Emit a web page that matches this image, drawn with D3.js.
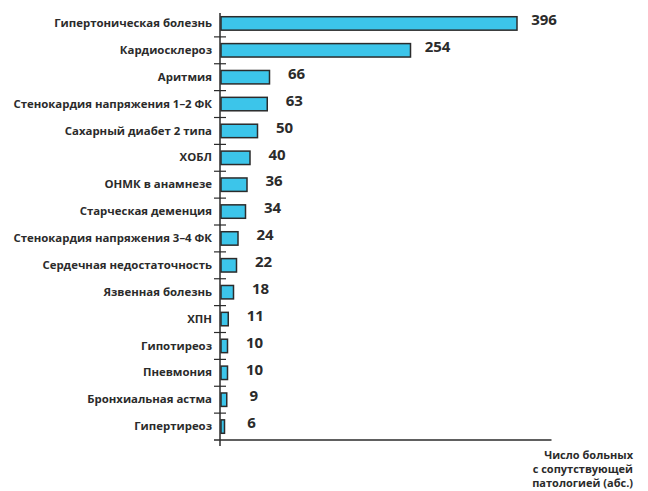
<!DOCTYPE html>
<html lang="ru">
<head>
<meta charset="utf-8">
<script src="https://cdn.jsdelivr.net/npm/d3@7"></script>
<style>
  html, body { margin: 0; padding: 0; background: #fff; }
  svg { display: block; font-family: "Open Sans", "Noto Sans", sans-serif; }
</style>
</head>
<body>
<svg id="chart" width="648" height="491"></svg>
<script>
// Сопутствующая патология: число больных (абс.)
const categories = [
  "Гипертоническая болезнь",
  "Кардиосклероз",
  "Аритмия",
  "Стенокардия напряжения 1–2 ФК",
  "Сахарный диабет 2 типа",
  "ХОБЛ",
  "ОНМК в анамнезе",
  "Старческая деменция",
  "Стенокардия напряжения 3–4 ФК",
  "Сердечная недостаточность",
  "Язвенная болезнь",
  "ХПН",
  "Гипотиреоз",
  "Пневмония",
  "Бронхиальная астма",
  "Гипертиреоз"
];
const patients = [396, 254, 66, 63, 50, 40, 36, 34, 24, 22, 18, 11, 10, 10, 9, 6];
const axisTitle = ["Число больных", "с сопутствующей", "патологией (абс.)"];

const ink = "#2b2b2b";
const barFill = "#3cc5ea";

const svg = d3.select("#chart");

const x = d3.scaleLinear().domain([0, 442]).range([220, 551.5]);
const y = d3.scaleBand()
  .domain(categories)
  .range([10, 440])
  .paddingInner(0.5)
  .paddingOuter(0.25);
const step = y.step();

// bars
svg.append("g")
  .selectAll("rect")
  .data(categories)
  .join("rect")
  .attr("x", x(0) + 1)
  .attr("y", d => y(d))
  .attr("width", (d, i) => x(patients[i]) - x(0) - 1)
  .attr("height", y.bandwidth())
  .attr("fill", barFill)
  .attr("stroke", ink)
  .attr("stroke-width", 1.5);

// category labels
const yAxis = svg.append("g")
  .attr("transform", `translate(${x(0)},0)`)
  .call(d3.axisLeft(y).tickSize(0).tickPadding(8));
yAxis.select(".domain").remove();
yAxis.selectAll("text")
  .attr("fill", ink)
  .attr("font-size", 11.4)
  .attr("font-weight", 700)
  .attr("font-family", "'Open Sans', sans-serif");

// axis lines
svg.append("line")
  .attr("x1", x(0)).attr("x2", x(0))
  .attr("y1", 13).attr("y2", 446)
  .attr("stroke", ink).attr("stroke-width", 1.5);
svg.append("line")
  .attr("x1", x(0) - 6).attr("x2", x.range()[1])
  .attr("y1", 440).attr("y2", 440)
  .attr("stroke", ink).attr("stroke-width", 1.5);

// category separator ticks
svg.append("g")
  .selectAll("line")
  .data(categories.slice(0, -1))
  .join("line")
  .attr("x1", x(0) - 6).attr("x2", x(0) + 6)
  .attr("y1", d => y(d) + y.bandwidth() / 2 + step / 2)
  .attr("y2", d => y(d) + y.bandwidth() / 2 + step / 2)
  .attr("stroke", ink).attr("stroke-width", 1.2);

// value labels
svg.append("g")
  .selectAll("text")
  .data(categories)
  .join("text")
  .attr("x", (d, i) => x(patients[i]) + 27)
  .attr("y", d => y(d) + y.bandwidth() / 2 - 3.5)
  .attr("dy", "0.35em")
  .attr("text-anchor", "middle")
  .attr("fill", ink)
  .attr("font-size", 15)
  .attr("font-weight", 700)
  .text((d, i) => patients[i]);

// axis title
svg.append("text")
  .attr("text-anchor", "end")
  .attr("fill", ink)
  .attr("font-size", 11)
  .attr("font-weight", 700)
  .selectAll("tspan")
  .data(axisTitle)
  .join("tspan")
  .attr("x", 633)
  .attr("y", (d, i) => 459 + i * 14)
  .text(d => d);
</script>
</body>
</html>
